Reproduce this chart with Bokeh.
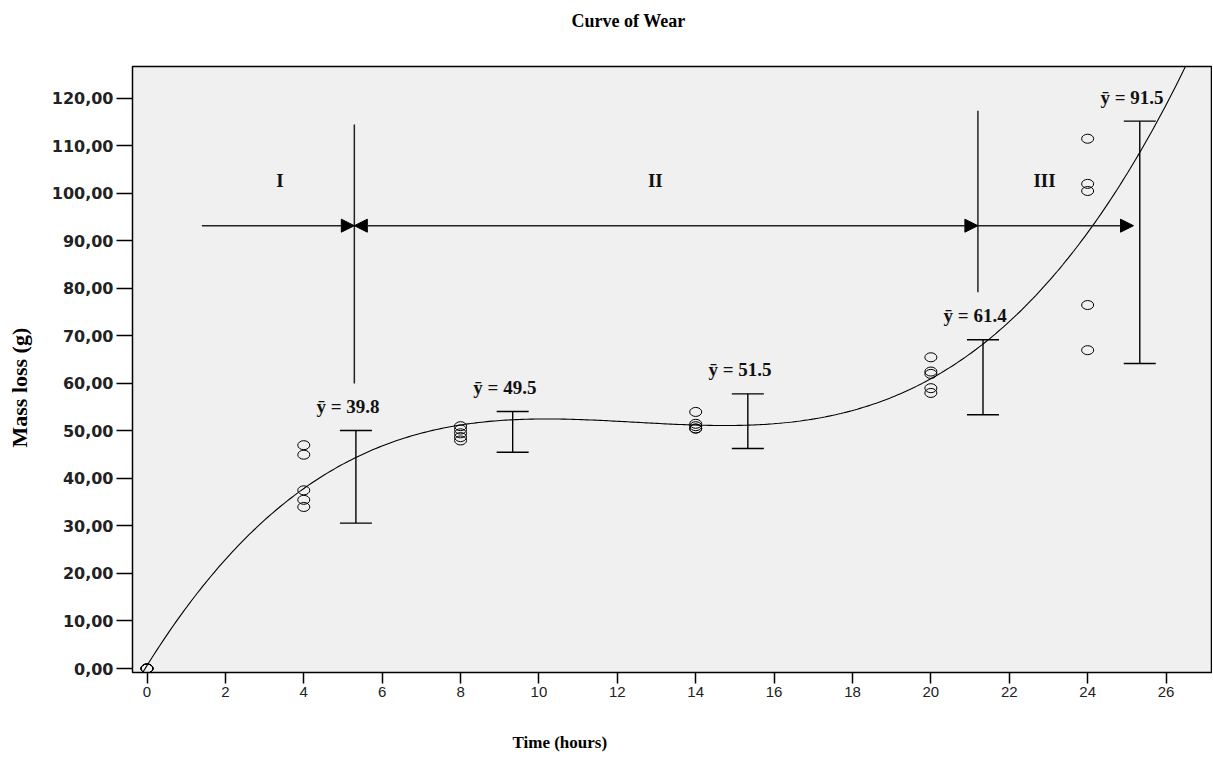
import numpy as np
from bokeh.plotting import figure
from bokeh.models import (Range1d, FixedTicker, CustomJSTickFormatter, Arrow, Title, LinearAxis,
                          NormalHead, Whisker, TeeHead, ColumnDataSource)
from bokeh.embed import file_html
from bokeh.resources import INLINE
from bokeh.core.properties import value

# ---- data ----
hours = [0, 0, 0, 0, 0,
         4, 4, 4, 4, 4,
         8, 8, 8, 8, 8,
         14, 14, 14, 14, 14,
         20, 20, 20, 20, 20,
         24, 24, 24, 24, 24]
mass_loss = [0, 0, 0, 0, 0,
             47.0, 45.0, 37.5, 35.5, 34.0,
             51.0, 50.3, 49.5, 48.7, 48.0,
             54.0, 51.5, 51.0, 50.5, 50.5,
             65.5, 62.5, 62.0, 59.0, 58.0,
             111.5, 102.0, 100.5, 76.5, 67.0]

group_hours = [4, 8, 14, 20, 24]
group_means = [39.8, 49.5, 51.5, 61.4, 91.5]
ci_upper = [50.1, 54.1, 57.8, 69.2, 115.2]
ci_lower = [30.6, 45.5, 46.3, 53.4, 64.2]
mean_labels = ["ȳ = 39.8", "ȳ = 49.5", "ȳ = 51.5", "ȳ = 61.4", "ȳ = 91.5"]

stage_names = ["I", "II", "III"]
stage_bounds = [1.4, 5.29, 21.2, 25.17]   # hours: arrow start, I|II, II|III, arrow end
stage_arrow_level = 93.2

y_ticks = list(range(0, 121, 10))
x_ticks = list(range(0, 27, 2))

SERIF = "Liberation Serif"

p = figure(width=1212, height=759, output_backend="svg", toolbar_location=None,
           x_range=Range1d(-0.37, 27.16), y_range=Range1d(-0.84, 126.7),
           min_border_left=132, min_border_right=1, min_border_top=66, min_border_bottom=87)
p.background_fill_color = "#f0f0f0"
p.border_fill_color = "white"
p.outline_line_color = "black"
p.outline_line_width = 1.5
p.grid.visible = False

# axes
p.yaxis.ticker = FixedTicker(ticks=y_ticks)
p.yaxis.formatter = CustomJSTickFormatter(code="return tick.toFixed(2).replace('.', ',');")
p.yaxis.major_label_text_font = "DejaVu Sans"
p.yaxis.major_label_text_font_style = "bold"
p.yaxis.major_label_text_font_size = "16px"
p.yaxis.major_label_text_color = "#222222"
p.yaxis.major_tick_out = 16
p.yaxis.major_tick_in = 0
p.yaxis.major_label_standoff = 3
p.xaxis.ticker = FixedTicker(ticks=x_ticks)
p.xaxis.major_label_text_font = "'Liberation Sans Narrow', 'Liberation Sans'"
p.xaxis.major_label_text_font_size = "15px"
p.xaxis.major_label_text_color = "#222222"
p.xaxis.major_tick_out = 11
p.xaxis.major_tick_in = 0
p.xaxis.major_label_standoff = 3
for ax in (p.xaxis, p.yaxis):
    ax.minor_tick_line_color = None
    ax.axis_line_color = "black"
    ax.major_tick_line_color = "black"
    ax.major_tick_line_width = 1.5


def spacer(size, tick):
    # blank axis (invisible tick, no label drawn) that only reserves room before a title
    return LinearAxis(ticker=FixedTicker(ticks=[tick]), axis_line_color=None,
                      major_tick_line_color=None, minor_tick_line_color=None,
                      major_label_text_color=None, major_label_standoff=0,
                      major_tick_out=size, major_tick_in=0, minor_tick_out=0)


def heading(text, offset, standoff, size):
    return Title(text=text, align="left", offset=offset, standoff=standoff,
                 text_font=SERIF, text_font_style="bold", text_font_size=size,
                 text_color="black")


p.add_layout(spacer(32, 10), "above")
p.add_layout(heading("Curve of Wear", 439, 8, "18px"), "above")
p.add_layout(spacer(30, 10), "below")
p.add_layout(heading("Time (hours)", 380, 2, "17px"), "below")
p.add_layout(spacer(13, 60), "left")
p.add_layout(heading("Mass loss (g)", 225, 8, "22px"), "left")

# fitted cubic curve of wear
coef = np.polyfit(hours, mass_loss, 3)
xs = np.linspace(-0.37, 27.16, 400)
p.line(xs, np.polyval(coef, xs), line_color="black", line_width=1.1)

# observations
p.ellipse(hours, mass_loss, width=12, height=9, width_units="screen", height_units="screen",
          fill_color=None, line_color="black", line_width=1)

# error bars (offset right of each group)
err_x = [h + 1.33 for h in group_hours]
src = ColumnDataSource(dict(x=err_x, up=ci_upper, lo=ci_lower,
                            lx=[e - 0.2 for e in err_x], lab=mean_labels))
p.add_layout(Whisker(source=src, base="x", upper="up", lower="lo", line_color="black",
                     line_width=1.4,
                     upper_head=TeeHead(size=32, line_color="black", line_width=1.4),
                     lower_head=TeeHead(size=32, line_color="black", line_width=1.4)))
p.text(x="lx", y="up", text="lab", source=src, text_font=value(SERIF),
       text_font_style="bold", text_font_size="19px", text_align="center",
       text_baseline="middle", y_offset=-24, text_color="#111111")

# stage boundaries
p.segment(x0=[stage_bounds[1], stage_bounds[2]], y0=[60.0, 79.2],
          x1=[stage_bounds[1], stage_bounds[2]], y1=[114.5, 117.4],
          line_color="#222222", line_width=1.5)

def head():
    return NormalHead(size=13, fill_color="black", line_color="black", line_width=1)

p.add_layout(Arrow(x_start=stage_bounds[0], y_start=stage_arrow_level,
                   x_end=stage_bounds[1], y_end=stage_arrow_level,
                   end=head(), line_color="#222222", line_width=1.5))
p.add_layout(Arrow(x_start=stage_bounds[1], y_start=stage_arrow_level,
                   x_end=stage_bounds[2], y_end=stage_arrow_level,
                   start=head(), end=head(), line_color="#222222", line_width=1.5))
p.add_layout(Arrow(x_start=stage_bounds[2], y_start=stage_arrow_level,
                   x_end=stage_bounds[3], y_end=stage_arrow_level,
                   end=head(), line_color="#222222", line_width=1.5))

stage_label_x = [3.39, 12.97, 22.9]
p.text(x=stage_label_x, y=[102.7] * 3, text=stage_names, text_font=value(SERIF),
       text_font_style="bold", text_font_size="19px", text_align="center",
       text_baseline="middle", text_color="#111111")

open("out.html", "w").write(file_html(p, INLINE))
